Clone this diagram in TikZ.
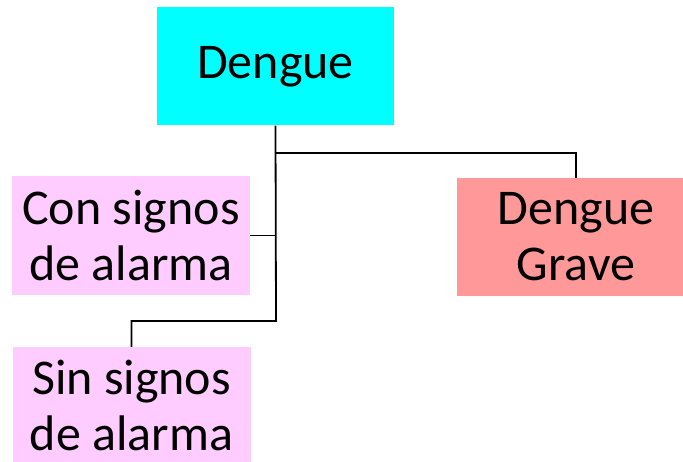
\documentclass[tikz,border=0pt]{standalone}
\usepackage{fontspec}
\setmainfont{Carlito}
\definecolor{boxcyan}{HTML}{00FFFF}
\definecolor{boxpink}{HTML}{FFCCFF}
\definecolor{boxred}{HTML}{FF9999}
\begin{document}
\begin{tikzpicture}[x=1pt,y=-1pt,
  box/.style={rectangle, inner sep=0pt, minimum width=238pt, minimum height=119pt,
    align=center, font=\fontsize{50pt}{56pt}\selectfont},
  conn/.style={draw=black, line width=1.8pt}]
\useasboundingbox (0,0) rectangle (683,462);
\node[box, fill=boxcyan, minimum width=237pt, minimum height=118pt] (dengue) at (275.5,66.5) {Dengue};
\node[box, fill=boxpink] (con) at (131,235.5) {Con signos\\de alarma};
\node[box, fill=boxred, minimum height=118pt] (grave) at (576,237) {Dengue\\Grave};
\node[box, fill=boxpink, minimum height=116pt] (sin) at (131.5,405) {Sin signos\\de alarma};
\coordinate (j1) at (276,153);
\coordinate (j2) at (276,321);
\draw[conn] (dengue.south) -- (j2) -| (sin.north);
\draw[conn] (j1) -| (grave.north);
\draw[conn] (con.east) -- (con.east -| j1);
\end{tikzpicture}
\end{document}
